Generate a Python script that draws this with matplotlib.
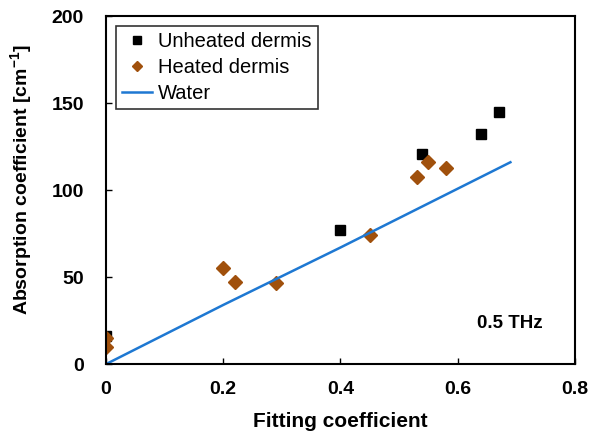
import numpy as np
import matplotlib.pyplot as plt

plt.rcParams['font.family'] = ['Liberation Sans', 'DejaVu Sans']
plt.rcParams['mathtext.fontset'] = 'custom'
plt.rcParams['mathtext.rm'] = 'Liberation Sans'
plt.rcParams['mathtext.bf'] = 'Liberation Sans:bold'

# unheated dermis (black squares)
unheated_x = [0.0, 0.40, 0.54, 0.64, 0.67]
unheated_y = [16, 77, 121, 132, 145]

# heated dermis (brown diamonds)
heated_x = [0.0, 0.0, 0.20, 0.22, 0.29, 0.45, 0.53, 0.55, 0.58]
heated_y = [15, 10, 55, 47, 46.5, 74, 107.5, 116, 112.5]

# water line
water_x = [0.0, 0.2, 0.4, 0.69]
water_y = [0, 34, 67, 116]

fig = plt.figure(figsize=(5.89, 4.34), dpi=100)
ax = fig.add_axes([0.18, 0.161, 0.796, 0.802])

ax.plot(unheated_x, unheated_y, 's', color='black', markersize=7.5, label='Unheated dermis')
ax.plot(heated_x, heated_y, 'D', color='#A0500C', markersize=7, label='Heated dermis')
ax.plot(water_x, water_y, '-', color='#1E78D2', linewidth=1.8, label='Water')

ax.set_xlim(0, 0.8)
ax.set_ylim(0, 200)
ax.set_xticks([0, 0.2, 0.4, 0.6, 0.8])
ax.set_xticklabels(['0', '0.2', '0.4', '0.6', '0.8'])
ax.set_yticks([0, 50, 100, 150, 200])
ax.tick_params(direction='in', length=4, width=1, labelsize=14)
ax.tick_params(axis='y', pad=16)
ax.tick_params(axis='x', pad=12)
for lab in ax.get_xticklabels() + ax.get_yticklabels():
    lab.set_fontweight('bold')
for s in ax.spines.values():
    s.set_linewidth(1.5)

ax.set_xlabel('Fitting coefficient', fontsize=15, fontweight='bold', labelpad=10)
ax.set_ylabel(r'Absorption coefficient [cm$^{\mathbf{-1}}$]', fontsize=14, fontweight='bold')
ax.yaxis.set_label_coords(-0.152, 0.53)

ax.text(0.633, 23.5, '0.5 THz', fontsize=13.5, fontweight='bold', va='center', ha='left')

leg = ax.legend(loc='upper left', bbox_to_anchor=(0.008, 0.99), fontsize=14.5, frameon=True,
                fancybox=False, edgecolor='black', handlelength=1.5, handletextpad=0.3,
                borderaxespad=0.3, labelspacing=0.35, borderpad=0.3, markerscale=0.8)
leg.get_frame().set_linewidth(1.2)

plt.savefig('out.png', dpi=100)
